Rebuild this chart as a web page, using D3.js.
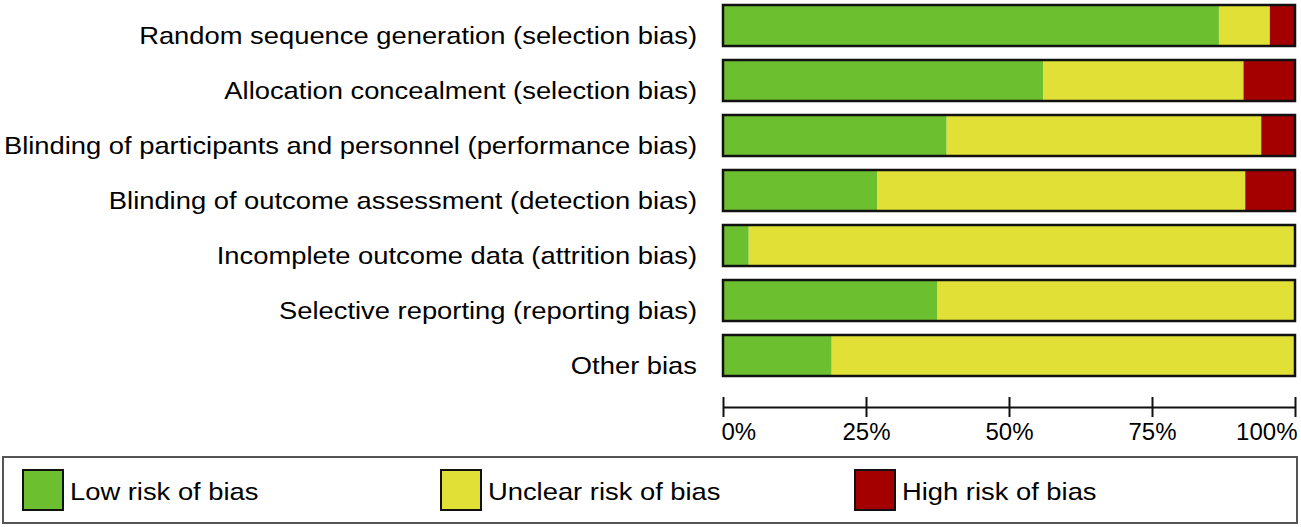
<!DOCTYPE html>
<html>
<head>
<meta charset="utf-8">
<script src="https://cdn.jsdelivr.net/npm/d3@7"></script>
<style>
  body { margin: 0; background: #fff; }
  text { font-family: "Liberation Sans", Arial, sans-serif; fill: #000; }
</style>
</head>
<body>
<svg id="chart" width="1301" height="527"></svg>
<script>
// risk of bias domains (top to bottom)
var domains = [
    "Random sequence generation (selection bias)",
    "Allocation concealment (selection bias)",
    "Blinding of participants and personnel (performance bias)",
    "Blinding of outcome assessment (detection bias)",
    "Incomplete outcome data (attrition bias)",
    "Selective reporting (reporting bias)",
    "Other bias"
]
// percentages
var lowRisk     = [86.7, 56.0, 39.1, 27.0, 4.5, 37.5, 19.0]
var unclearRisk = [8.9, 35.0, 55.0, 64.3, 95.5, 62.5, 81.0]
var highRisk    = [4.4, 9.0, 5.9, 8.7, 0, 0, 0]

var seriesNames = ["Low risk of bias", "Unclear risk of bias", "High risk of bias"]
var colors = ["#6cc030", "#e1e036", "#a50000"]
var tickValues = [0, 25, 50, 75, 100]

var stretch = 1.14  // the original font is a bit wider than Arial

var svg = d3.select("svg#chart")

var xScale = d3.scaleLinear().domain([0, 100]).range([723, 1295])
var yScale = d3.scaleBand().domain(domains).range([5, 376]).paddingInner(14 / 55).paddingOuter(0)

var rows = domains.map(function(d, i) {
    return { name: d, values: [lowRisk[i], unclearRisk[i], highRisk[i]] }
})

var groups = svg.selectAll(".row")
    .data(rows)
    .enter()
    .append("g")
    .attr("class", "row")
    .attr("transform", function(d) { return "translate(0," + yScale(d.name) + ")" })

groups.each(function(d) {
    var g = d3.select(this)
    var start = 0
    d.values.forEach(function(v, k) {
        if (v > 0) {
            g.append("rect")
                .attr("x", xScale(start))
                .attr("y", 0)
                .attr("width", xScale(start + v) - xScale(start))
                .attr("height", yScale.bandwidth())
                .attr("fill", colors[k])
        }
        start += v
    })
    g.append("rect")
        .attr("x", xScale(0))
        .attr("y", 0)
        .attr("width", xScale(100) - xScale(0))
        .attr("height", yScale.bandwidth())
        .attr("fill", "none")
        .attr("stroke", "#111")
        .attr("stroke-width", 2.5)
    g.append("text")
        .attr("transform", "translate(697," + (yScale.bandwidth() - 2) + ") scale(" + stretch + ",1)")
        .attr("text-anchor", "end")
        .attr("font-size", "24px")
        .text(d.name)
})

// axis
var axis = svg.append("g")
    .attr("transform", "translate(0,407)")
    .call(d3.axisBottom(xScale).tickValues(tickValues).tickSize(0).tickFormat(function(d) { return d + "%" }))
axis.select(".domain").attr("stroke", "#111").attr("stroke-width", 2)
axis.selectAll(".tick line").remove()
axis.selectAll(".tick").append("line")
    .attr("y1", -10).attr("y2", 10)
    .attr("stroke", "#111").attr("stroke-width", 2)
axis.selectAll(".tick text")
    .attr("y", 33)
    .attr("dy", 0)
    .attr("font-size", "24px")
    .attr("font-family", "Liberation Sans, Arial, sans-serif")
    .attr("fill", "#000")
    .attr("text-anchor", function(d) { return d === 0 ? "start" : (d === 100 ? "end" : "middle") })
    .attr("x", function(d) { return d === 0 ? -2 : (d === 100 ? 2 : 0) })

// legend
svg.append("rect")
    .attr("x", 3).attr("y", 457)
    .attr("width", 1294).attr("height", 66)
    .attr("fill", "none")
    .attr("stroke", "#555")
    .attr("stroke-width", 2)

var legendX = [23, 441, 855]
var legend = svg.selectAll(".legend")
    .data(seriesNames)
    .enter()
    .append("g")
    .attr("class", "legend")
    .attr("transform", function(d, i) { return "translate(" + legendX[i] + ",470)" })
legend.append("rect")
    .attr("width", 40).attr("height", 40)
    .attr("fill", function(d, i) { return colors[i] })
    .attr("stroke", "#111").attr("stroke-width", 2)
legend.append("text")
    .attr("transform", "translate(47,30) scale(" + stretch + ",1)")
    .attr("font-size", "24px")
    .text(function(d) { return d })
</script>
</body>
</html>
